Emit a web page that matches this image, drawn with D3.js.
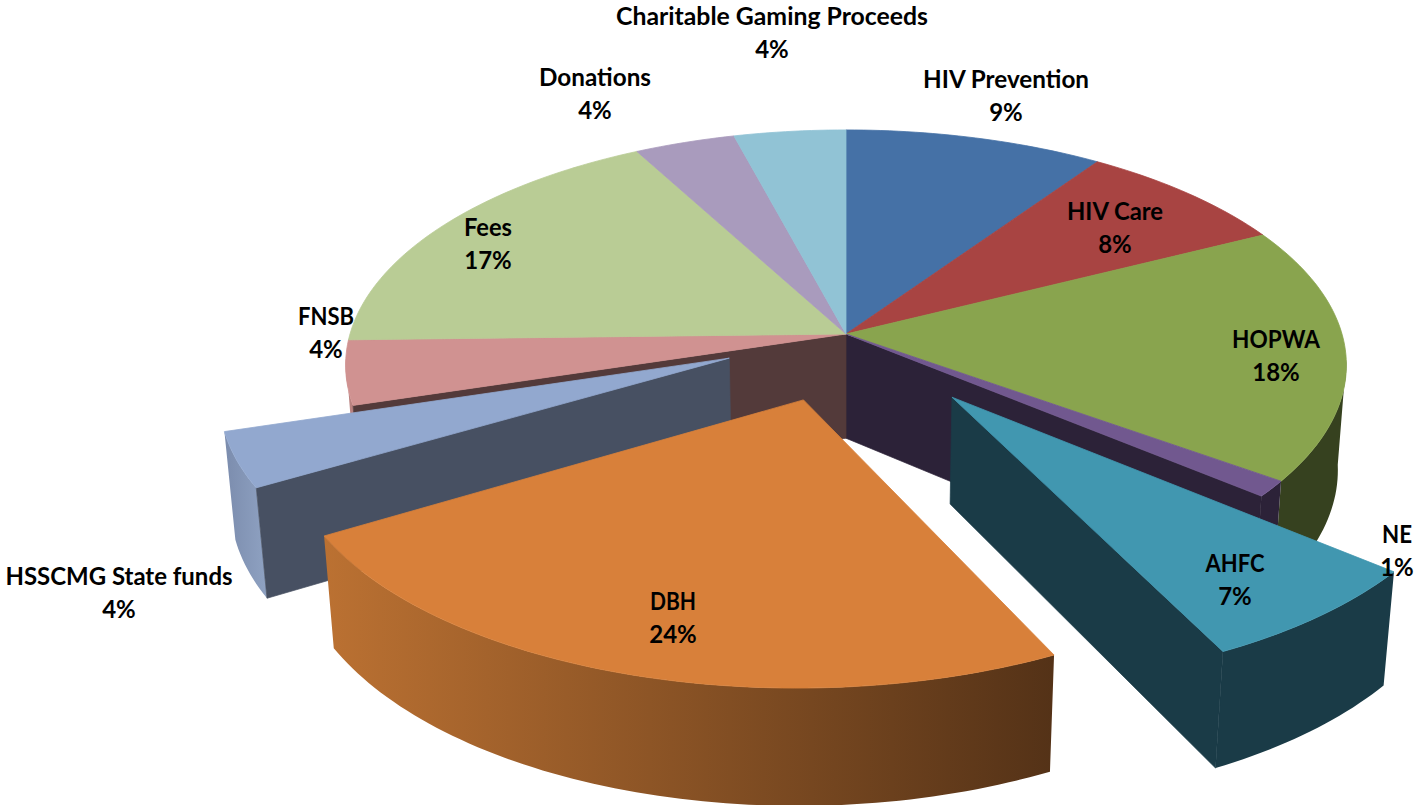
<!DOCTYPE html>
<html><head><meta charset="utf-8">
<script src="https://cdn.jsdelivr.net/npm/d3@7"></script>
<style>html,body{margin:0;padding:0;background:#fff}svg{display:block}text{font-family:Lato,"Liberation Sans",sans-serif;font-weight:700;fill:#000;font-size:24px;text-anchor:middle}</style>
</head><body><div id="chart"></div>
<script>
const categories=["HIV Prevention","HIV Care","HOPWA","NE","AHFC","DBH","HSSCMG State funds","FNSB","Fees","Donations","Charitable Gaming Proceeds"];
const values=[9.5,8.0,17.5,1.1,6.7,23.7,3.7,4.4,17.6,3.7,4.1];
const percentLabels=["9%","8%","18%","1%","7%","24%","4%","4%","17%","4%","4%"];
const explode=[0,0,0,0,0.335,0.287,0.254,0,0,0,0];
const topColors=["#4571A6","#A84442","#89A44E","#71588F","#4197B0","#D8803A","#92A8CF","#D09291","#B9CC95","#A99BBD","#91C3D5"];
const wallColors=[["#2a4464","#2a4464"],["#652928","#652928"],["#36411f","#36411f"],["#2c2238","#2c2238"],["#1a3b47","#1a3b47"],["#bb7132","#543217"],["#7b8cad","#8fa2c2"],["#b98280","#b98280"],["#6f7b59","#6f7b59"],["#655d71","#655d71"],["#577580","#577580"]];
const cutColors=[null,null,null,"#2c2238","#1a3b47",null,"#475062","#533a3a",null,null,null];
const cutEdge=[null,null,null,"end","end",null,"start","start",null,null,null];
const labelPos=[[1006,79],[1115,211],[1276,339],[1397,534],[1235,563],[673,601],[119,576],[326,316],[488,227],[595,77],[772,16]];
const labelWidth=[166,96,88,30,59,46,227,56,48,112,312];
const W=1418,H=805;
const persp=0.132,drop=0.017,frontLimit=0.1;
const xS=d3.scaleLinear().domain([0,1]).range([846,846+496]);
const yS=d3.scaleLinear().domain([0,1]).range([334,334+231]);
const zS=d3.scaleLinear().domain([0,1]).range([0,106/231]);
function project(u,v,z){const s=1/(1-persp*v+drop*z);return [xS(u*s),yS((v+zS(z))*s)];}
const pie=d3.pie().sort(null).value(d=>d)(values);
const svg=d3.select("#chart").append("svg").attr("width",W).attr("height",H);
const defs=svg.append("defs");
const line=d3.line();
const slices=pie.map((p,i)=>{
  const mid=(p.startAngle+p.endAngle)/2;
  const ox=Math.sin(mid)*explode[i],oy=-Math.cos(mid)*explode[i];
  const n=Math.max(2,Math.ceil((p.endAngle-p.startAngle)/0.02));
  const angles=d3.range(n+1).map(k=>p.startAngle+(p.endAngle-p.startAngle)*k/n);
  const rim=angles.map(a=>[ox+Math.sin(a),oy-Math.cos(a)]);
  const front=angles.filter(a=>-Math.cos(a)>=frontLimit).map(a=>[ox+Math.sin(a),oy-Math.cos(a)]);
  return {i,ox,oy,rim,front};
});
slices.forEach(s=>{
  const g=defs.append("linearGradient").attr("id","w"+s.i);
  g.append("stop").attr("offset",0).attr("stop-color",wallColors[s.i][0]);
  g.append("stop").attr("offset",1).attr("stop-color",wallColors[s.i][1]);
});
function drawRim(s){
  if(s.front.length<2) return;
  const top=s.front.map(r=>project(r[0],r[1],0)),bot=s.front.map(r=>project(r[0],r[1],1)).reverse();
  svg.append("path").attr("d",line(top.concat(bot))+"Z").attr("fill",`url(#w${s.i})`);
}
function drawCut(s){
  const r=cutEdge[s.i]==="end"?s.rim[s.rim.length-1]:s.rim[0];
  const c=[s.ox,s.oy];
  const pts=[project(c[0],c[1],0),project(r[0],r[1],0),project(r[0],r[1],1),project(c[0],c[1],1)];
  svg.append("path").attr("d",line(pts)+"Z").attr("fill",cutColors[s.i]).attr("stroke",cutColors[s.i]).attr("stroke-width",.7);
}
function drawTop(s){
  const pts=[project(s.ox,s.oy,0)].concat(s.rim.map(r=>project(r[0],r[1],0)));
  svg.append("path").attr("d",line(pts)+"Z").attr("fill",topColors[s.i]).attr("stroke",topColors[s.i]).attr("stroke-width",.8);
}
const fixed=slices.filter(s=>!explode[s.i]);
fixed.forEach(drawRim);
drawCut(slices[3]);
drawCut(slices[7]);
fixed.forEach(drawTop);
[6,4,5].forEach(i=>{
  const s=slices[i];
  drawRim(s);
  if(cutColors[i]) drawCut(s);
  drawTop(s);
});
categories.forEach((c,i)=>{
  const t=svg.append("text");
  t.append("tspan").attr("x",labelPos[i][0]).attr("y",labelPos[i][1]+9).attr("textLength",labelWidth[i]).attr("lengthAdjust","spacingAndGlyphs").text(c);
  t.append("tspan").attr("x",labelPos[i][0]).attr("y",labelPos[i][1]+42).text(percentLabels[i]);
});
</script></body></html>
